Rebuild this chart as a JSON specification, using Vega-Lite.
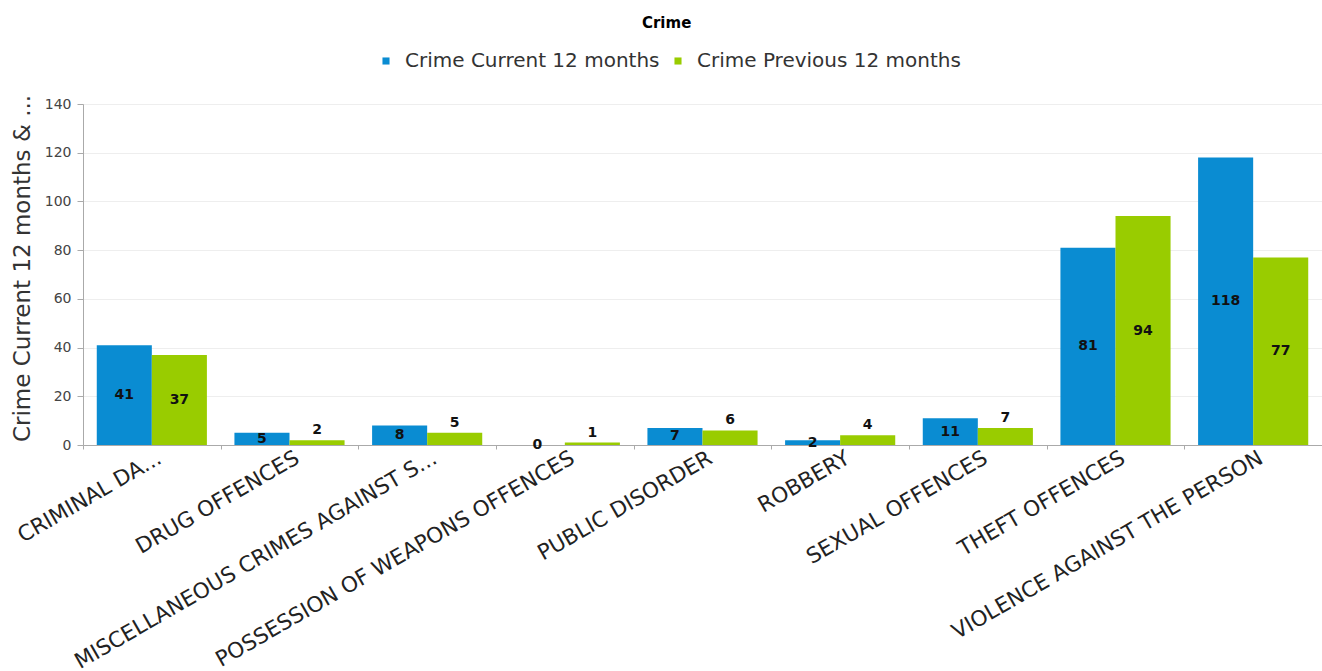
{
  "$schema": "https://vega.github.io/schema/vega-lite/v6.json",
  "autosize": "none",
  "width": 1239,
  "height": 341,
  "padding": {"left": 83, "top": 104, "right": 0, "bottom": 226},
  "background": "white",
  "title": {
    "text": "Crime",
    "anchor": "middle",
    "frame": "bounds",
    "fontSize": 15,
    "font": "DejaVu Sans",
    "fontWeight": "bold",
    "color": "#000000",
    "offset": 20
  },
  "data": {
    "values": [
      {"category": "CRIMINAL DA...", "series": "Crime Current 12 months", "value": 41},
      {"category": "CRIMINAL DA...", "series": "Crime Previous 12 months", "value": 37},
      {"category": "DRUG OFFENCES", "series": "Crime Current 12 months", "value": 5},
      {"category": "DRUG OFFENCES", "series": "Crime Previous 12 months", "value": 2},
      {"category": "MISCELLANEOUS CRIMES AGAINST S...", "series": "Crime Current 12 months", "value": 8},
      {"category": "MISCELLANEOUS CRIMES AGAINST S...", "series": "Crime Previous 12 months", "value": 5},
      {"category": "POSSESSION OF WEAPONS OFFENCES", "series": "Crime Current 12 months", "value": 0},
      {"category": "POSSESSION OF WEAPONS OFFENCES", "series": "Crime Previous 12 months", "value": 1},
      {"category": "PUBLIC DISORDER", "series": "Crime Current 12 months", "value": 7},
      {"category": "PUBLIC DISORDER", "series": "Crime Previous 12 months", "value": 6},
      {"category": "ROBBERY", "series": "Crime Current 12 months", "value": 2},
      {"category": "ROBBERY", "series": "Crime Previous 12 months", "value": 4},
      {"category": "SEXUAL OFFENCES", "series": "Crime Current 12 months", "value": 11},
      {"category": "SEXUAL OFFENCES", "series": "Crime Previous 12 months", "value": 7},
      {"category": "THEFT OFFENCES", "series": "Crime Current 12 months", "value": 81},
      {"category": "THEFT OFFENCES", "series": "Crime Previous 12 months", "value": 94},
      {"category": "VIOLENCE AGAINST THE PERSON", "series": "Crime Current 12 months", "value": 118},
      {"category": "VIOLENCE AGAINST THE PERSON", "series": "Crime Previous 12 months", "value": 77}
    ]
  },
  "encoding": {
    "x": {
      "field": "category",
      "type": "nominal",
      "sort": null,
      "scale": {"paddingInner": 0.2, "paddingOuter": 0.1},
      "axis": {
        "title": null,
        "labelAngle": -30,
        "labelAlign": "right",
        "labelBaseline": "top",
        "labelFontSize": 21.5,
        "labelFont": "DejaVu Sans",
        "labelColor": "#222222",
        "labelPadding": -2,
        "bandPosition": 0,
        "tickOffset": -13.8,
        "labelOffset": 16,
        "tickSize": 4,
        "tickColor": "#aaaaaa",
        "domainColor": "#aaaaaa",
        "labelLimit": 600
      }
    },
    "xOffset": {"field": "series", "type": "nominal"},
    "color": {
      "field": "series",
      "type": "nominal",
      "scale": {"range": ["#0A8CD2", "#99CC00"]},
      "legend": {
        "title": null,
        "orient": "none",
        "legendX": 293,
        "legendY": -53,
        "direction": "horizontal",
        "symbolType": "square",
        "symbolSize": 50,
        "labelFontSize": 20,
        "labelFont": "DejaVu Sans",
        "labelColor": "#333333",
        "labelLimit": 0,
        "labelOffset": 9,
        "columnPadding": 8,
        "symbolStrokeWidth": 0
      }
    }
  },
  "layer": [
    {
      "mark": {"type": "bar"},
      "encoding": {
        "y": {
          "field": "value",
          "type": "quantitative",
          "scale": {"domain": [0, 140]},
          "axis": {
            "title": "Crime Current 12 months & ...",
            "titleFontSize": 23,
            "titleFont": "DejaVu Sans",
            "titleFontWeight": "normal",
            "titleColor": "#333333",
            "titlePadding": 10,
            "titleY": 164,
            "titleAlign": "center",
            "values": [0, 20, 40, 60, 80, 100, 120, 140],
            "labelFontSize": 14,
            "labelFont": "DejaVu Sans",
            "labelColor": "#444444",
            "labelPadding": 6,
            "tickColor": "#aaaaaa",
            "tickSize": 6,
            "domainColor": "#aaaaaa",
            "gridColor": "#eeeeee"
          }
        }
      }
    },
    {
      "transform": [
        {"filter": "datum.series == 'Crime Current 12 months' || datum.value >= 20"},
        {"calculate": "datum.value / 2", "as": "mid"}
      ],
      "mark": {"type": "text", "fontSize": 14, "font": "DejaVu Sans", "fontWeight": "bold", "color": "#111111", "baseline": "middle"},
      "encoding": {
        "y": {"field": "mid", "type": "quantitative"},
        "text": {"field": "value", "type": "quantitative"},
        "color": {"value": "#111111"}
      }
    },
    {
      "transform": [
        {"filter": "datum.series == 'Crime Previous 12 months' && datum.value < 20"}
      ],
      "mark": {"type": "text", "fontSize": 14, "font": "DejaVu Sans", "fontWeight": "bold", "color": "#111111", "baseline": "bottom", "dy": -3},
      "encoding": {
        "y": {"field": "value", "type": "quantitative"},
        "text": {"field": "value", "type": "quantitative"},
        "color": {"value": "#111111"}
      }
    }
  ]
}
